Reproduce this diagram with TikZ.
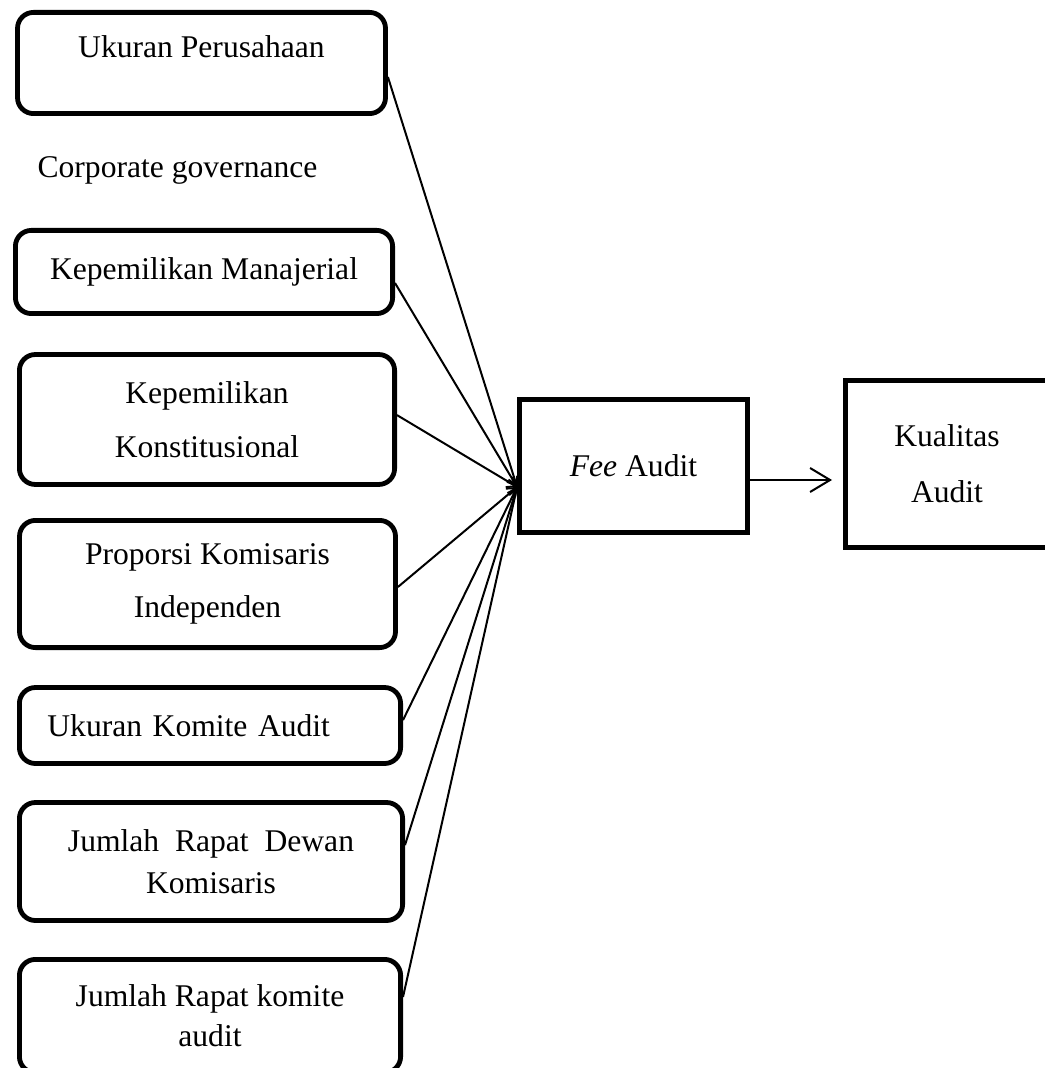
\documentclass[tikz,border=0pt]{standalone}
\usepackage{fontspec}
\setmainfont{Liberation Serif}
\usetikzlibrary{arrows.meta}

\begin{document}
\begin{tikzpicture}[
  x=0.5pt, y=-0.5pt,
  var/.style={draw, line width=2.4pt, rounded corners=8pt, align=center,
              inner sep=2pt, font=\fontsize{15.8}{27}\selectfont},
  mid/.style={draw, line width=2.4pt, align=center, inner sep=2pt,
              font=\fontsize{15.8}{28}\selectfont},
  lbl/.style={font=\fontsize{15.8}{27}\selectfont},
  arr/.style={-{Straight Barb[length=4pt,width=6pt]}, line width=1pt},
  big/.style={-{Straight Barb[length=10pt,width=12pt]}, line width=1pt},
]
\useasboundingbox (0,0) rectangle (1044,1068);

% independent variables
\node[var, minimum width=184pt, minimum height=50.6pt,
      text height=10.8pt, text depth=15.8pt] (size) at (201.5,63) {Ukuran Perusahaan};
\node[lbl] (cg) at (177.5,170) {Corporate governance};
\node[var, minimum width=188.6pt, minimum height=41.6pt] (man) at (204,272) {Kepemilikan Manajerial};
\node[var, minimum width=187.6pt, minimum height=65pt] (kon) at (207,419.5) {Kepemilikan\\Konstitusional};
\node[var, minimum width=188pt, minimum height=63.6pt,
      font=\fontsize{15.8}{26.5}\selectfont] (kom) at (207.5,584) {Proporsi Komisaris\\Independen};
\node[var, minimum height=38pt, text width=162.6pt, inner xsep=14pt,
      align=left] (uka) at (210,725.5) {Ukuran Komite Audit};
\node[var, minimum width=191.6pt, minimum height=59pt,
      font=\fontsize{15.8}{21}\selectfont] (dew) at (211,861.5) {Jumlah~~Rapat~~Dewan\\Komisaris};
\node[var, minimum width=190.6pt, minimum height=56.6pt,
      font=\fontsize{15.8}{20}\selectfont] (kmt) at (210,1016) {Jumlah Rapat komite\\audit};

% intervening and dependent variables
\node[mid, minimum width=114pt, minimum height=66.6pt] (fee) at (633.5,466) {\textit{Fee} Audit};
\node[mid, minimum width=101.6pt, minimum height=83.6pt] (kua) at (947,464) {Kualitas\\Audit};

\coordinate (hub) at ([yshift=-10.5pt]fee.west);

\draw[arr] ([yshift=-7pt]size.east) -- (hub);
\draw[arr] ([yshift=-5.5pt]man.east) -- (hub);
\draw[arr] ([yshift=2.2pt]kon.east) -- (hub);
\draw[arr] ([yshift=-1.5pt]kom.east) -- (hub);
\draw[arr] ([yshift=2.7pt]uka.east) -- (hub);
\draw[arr] ([yshift=8.2pt]dew.east) -- (hub);
\draw[arr] ([yshift=9.5pt]kmt.east) -- (hub);

\draw[big, shorten >=5.5pt] ([yshift=-7pt]fee.east) -- ([yshift=-8pt]kua.west);
\end{tikzpicture}
\end{document}
